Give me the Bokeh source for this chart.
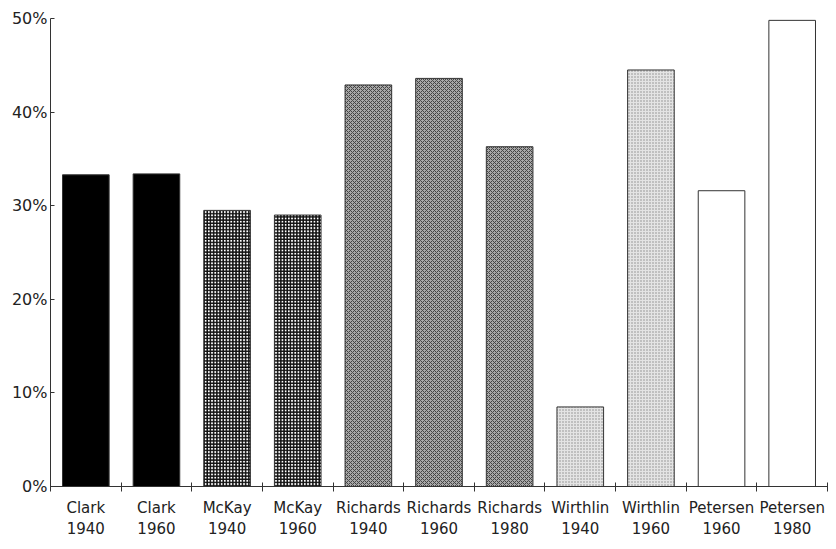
from bokeh.plotting import figure
from bokeh.models import Range1d, FixedTicker, PrintfTickFormatter
from bokeh.embed import file_html
from bokeh.resources import INLINE

names = ["Clark", "Clark", "McKay", "McKay", "Richards", "Richards", "Richards",
         "Wirthlin", "Wirthlin", "Petersen", "Petersen"]
years = ["1940", "1960", "1940", "1960", "1940", "1960", "1980",
         "1940", "1960", "1960", "1980"]
values = [33.3, 33.4, 29.5, 29.0, 42.9, 43.6, 36.3, 8.5, 44.5, 31.6, 49.8]
y_ticks = [0, 10, 20, 30, 40, 50]

styles = {
    "Clark": dict(fill_color="black", hatch_pattern=" ", hatch_color="black", hatch_scale=4, hatch_weight=1),
    "McKay": dict(fill_color="white", hatch_pattern="+", hatch_color="#111111", hatch_scale=3.2, hatch_weight=1.8),
    "Richards": dict(fill_color="#a8a8a8", hatch_pattern="x", hatch_color="#444444", hatch_scale=4, hatch_weight=1.0),
    "Wirthlin": dict(fill_color="#e4e4e4", hatch_pattern=".", hatch_color="#8a8a8a", hatch_scale=3, hatch_weight=1.0),
    "Petersen": dict(fill_color="white", hatch_pattern=" ", hatch_color="white", hatch_scale=4, hatch_weight=1),
}

FONT = "DejaVu Sans"

p = figure(width=828, height=541, output_backend="svg", toolbar_location=None,
           x_range=Range1d(0, len(values)), y_range=Range1d(0, 50),
           min_border_left=50, min_border_right=1, min_border_top=18, min_border_bottom=40)

centers = [i + 0.5 for i in range(len(values))]
for name in dict.fromkeys(names):
    idx = [i for i, n in enumerate(names) if n == name]
    st = styles[name]
    p.vbar(x=[centers[i] for i in idx], top=[values[i] for i in idx], bottom=0, width=0.66,
           line_color="#333333", line_width=1, **st)

p.xgrid.visible = False
p.ygrid.visible = False
p.outline_line_color = None
p.background_fill_color = "white"
p.border_fill_color = "white"

xa = p.xaxis[0]
xa.ticker = FixedTicker(ticks=centers, minor_ticks=list(range(len(values) + 1)))
xa.major_label_overrides = {c: f"{n}\n{y}" for c, n, y in zip(centers, names, years)}
xa.major_tick_in = 0
xa.major_tick_out = 0
xa.minor_tick_in = 4
xa.minor_tick_out = 5
xa.minor_tick_line_color = "#333333"
xa.axis_line_color = "#333333"
xa.major_label_text_font = FONT
xa.major_label_text_font_size = "15px"
xa.major_label_text_color = "#222222"
xa.major_label_standoff = 7
xa.major_label_text_line_height = 1.2

ya = p.yaxis[0]
ya.ticker = FixedTicker(ticks=y_ticks, minor_ticks=[])
ya.formatter = PrintfTickFormatter(format="%d%%")
ya.major_tick_in = 4
ya.major_tick_out = 0
ya.minor_tick_in = 0
ya.minor_tick_out = 0
ya.major_tick_line_color = "#333333"
ya.axis_line_color = "#333333"
ya.major_label_text_font = FONT
ya.major_label_text_font_size = "16px"
ya.major_label_text_color = "#222222"
ya.major_label_standoff = 3

open("out.html", "w").write(file_html(p, INLINE))
